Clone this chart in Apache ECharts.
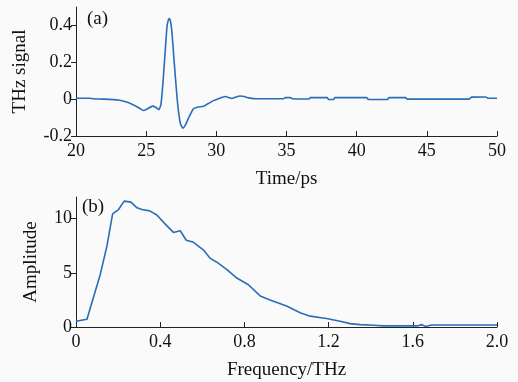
<!DOCTYPE html>
<html><head><meta charset="utf-8">
<script src="https://cdn.jsdelivr.net/npm/echarts@6/dist/echarts.min.js"></script>
<style>html,body{margin:0;padding:0;background:#fafafa}#c{width:518px;height:382px}</style>
</head><body><div id="c"></div>
<script>
// (a) time-domain THz signal
const timePs = [20.0,21.0,21.2,22.0,23.0,23.6,24.1,24.5,24.8,25.1,25.45,25.7,25.9,26.05,26.19,26.36,26.48,26.58,26.65,26.74,26.84,26.95,27.07,27.2,27.31,27.45,27.62,27.8,28.0,28.2,28.38,28.7,29.09,29.4,29.8,30.2,30.63,31.1,31.4,31.7,32.0,32.3,32.9,34.8,34.9,35.3,35.4,36.6,36.7,37.9,38.0,38.35,38.45,40.7,40.85,42.2,42.3,43.5,43.6,48.0,48.2,49.2,49.35,50.0];
const thzSignal = [0.005,0.005,0.002,0.0,-0.005,-0.016,-0.032,-0.048,-0.062,-0.052,-0.038,-0.045,-0.057,-0.03,0.083,0.263,0.39,0.43,0.437,0.42,0.36,0.25,0.13,0.01,-0.07,-0.135,-0.157,-0.14,-0.106,-0.075,-0.052,-0.043,-0.039,-0.025,-0.008,0.004,0.014,0.004,0.012,0.017,0.014,0.007,0.002,0.002,0.008,0.008,0.002,0.001,0.008,0.008,-0.002,-0.002,0.008,0.008,-0.002,-0.002,0.008,0.008,0.0,0.0,0.011,0.012,0.005,0.005];
// (b) amplitude spectrum
const freqTHz = [0,0.052,0.115,0.147,0.174,0.202,0.229,0.261,0.29,0.313,0.35,0.384,0.424,0.463,0.495,0.524,0.555,0.606,0.638,0.669,0.717,0.764,0.819,0.875,0.922,1.0,1.065,1.112,1.19,1.255,1.302,1.35,1.413,1.46,1.62,1.643,1.66,1.69,2.0];
const amplitude = [0.53,0.72,4.83,7.48,10.44,10.84,11.62,11.53,11.0,10.84,10.72,10.34,9.5,8.73,8.88,8.01,7.85,7.1,6.33,5.98,5.3,4.52,3.9,2.87,2.5,1.93,1.31,1.0,0.78,0.53,0.31,0.22,0.16,0.1,0.1,0.22,0.05,0.19,0.19];
// tick labels
const timeTicks = [20,25,30,35,40,45,50];
const signalTicks = [-0.2,0,0.2,0.4];
const freqTicks = [0,0.4,0.8,1.2,1.6,2.0];
const ampTicks = [0,5,10];

const FONT = 'Liberation Serif';
const TXT = '#111';
const AX = '#222';
const LINE = '#2a6db8';
const fs = 18;

function xAxisCfg(min, max, interval, ticks, name, fmt) {
  return {
    type: 'value', min, max, interval,
    name, nameLocation: 'middle', nameGap: 34,
    nameTextStyle: {fontFamily: FONT, fontSize: 19, color: TXT},
    axisLine: {show: true, onZero: false, lineStyle: {color: AX, width: 1}},
    axisTick: {show: true, inside: true, length: 5, lineStyle: {color: AX}, customValues: ticks},
    axisLabel: {fontFamily: FONT, fontSize: fs, color: TXT, margin: 6, customValues: ticks, formatter: fmt},
    splitLine: {show: false}
  };
}
function yAxisCfg(min, max, ticks, name, gap) {
  return {
    type: 'value', min, max,
    name, nameLocation: 'middle', nameGap: gap,
    nameTextStyle: {fontFamily: FONT, fontSize: 19, color: TXT},
    axisLine: {show: true, onZero: false, lineStyle: {color: AX, width: 1}},
    axisTick: {show: true, inside: false, length: 5, lineStyle: {color: AX}, customValues: ticks},
    axisLabel: {fontFamily: FONT, fontSize: fs, color: TXT, margin: 4, customValues: ticks},
    splitLine: {show: false}
  };
}

const chart = echarts.init(document.getElementById('c'), null, {renderer: 'canvas'});
chart.setOption({
  backgroundColor: '#fafafa',
  animation: false,
  grid: [
    {left: 76, top: 7, width: 421, height: 129},
    {left: 76, top: 197, width: 421, height: 130}
  ],
  xAxis: [
    Object.assign(xAxisCfg(20, 50, 5, timeTicks, 'Time/ps', v => String(v)), {gridIndex: 0}),
    Object.assign(xAxisCfg(0, 2, 0.4, freqTicks, 'Frequency/THz', v => v === 0 ? '0' : v.toFixed(1)), {gridIndex: 1})
  ],
  yAxis: [
    Object.assign(yAxisCfg(-0.2, 0.5, signalTicks, 'THz signal', 46), {gridIndex: 0}),
    Object.assign(yAxisCfg(0, 12, ampTicks, 'Amplitude', 35), {gridIndex: 1})
  ],
  series: [
    {type: 'line', xAxisIndex: 0, yAxisIndex: 0, showSymbol: false, smooth: 0.15,
     lineStyle: {color: LINE, width: 1.6},
     data: timePs.map((t, i) => [t, thzSignal[i]])},
    {type: 'line', xAxisIndex: 1, yAxisIndex: 1, showSymbol: false, smooth: false,
     lineStyle: {color: LINE, width: 1.6},
     data: freqTHz.map((f, i) => [f, amplitude[i]])}
  ],
  graphic: [
    {type: 'text', left: 87, top: 10, style: {text: '(a)', fontFamily: FONT, fontSize: 19, fill: TXT}},
    {type: 'text', left: 82, top: 198, style: {text: '(b)', fontFamily: FONT, fontSize: 19, fill: TXT}}
  ]
});
</script></body></html>
